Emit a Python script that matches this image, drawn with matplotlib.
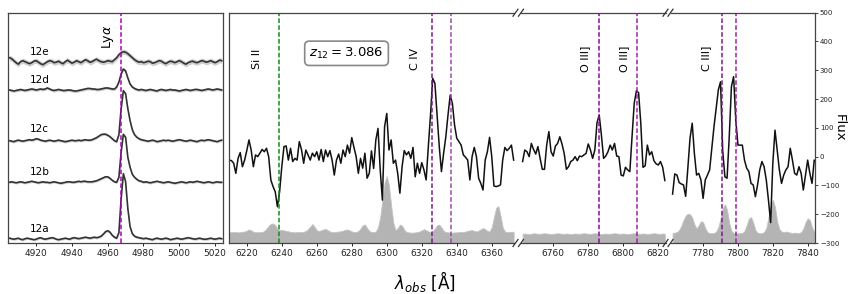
import numpy as np
import matplotlib
matplotlib.use("Agg")
import matplotlib.pyplot as plt
from matplotlib.lines import Line2D

# ============================================================
# Data
# ============================================================
Z12 = 3.086  # systemic redshift

# --- Left panel: Ly-alpha profiles of images 12a-12e (relative units) ---
LYA_W0 = 4905.0  # first wavelength of the cut-out (A)
LYA_STEP = 1.25  # MUSE sampling (A)
NAMES = ["12a", "12b", "12c", "12d", "12e"]
FLUX_12A = [0.5, 0, -0.5, 0, 0.5, -0.5, -1, 0, 0.5, 0,
            -0.5, -1, -0.5, 0.5, 1, 0, -0.5, 0, 0.5, 1,
            0.5, -0.5, -1, -0.5, 0, 0.5, 0, -0.5, 0.5, 1,
            0.5, 0, 0.5, 1, 1.5, 1, 0.5, 1, 1.5, 1, 1.5,
            2.5, 4.5, 7, 8, 6.5, 3.5, 1.5, 0.5, 6, 40, 65, 57, 30, 12, 5, 2.5, 1.5, 1, 0.5,
            0, 0.5, 0, -0.5, -1, 0, 0.5, 0, -0.5, 0, 0.5, 0, -1, -0.5, 0, 0.5, 0, -0.5,
            0, 0.5, 1, 0.5, 0, -0.5, 0, 0.5, 0, -0.5, -0.5, 0, 0.5, 0, -0.5, 0, 0.5, 0]
FLUX_12B = [0, 0.5, 0, -0.5, 0, 0.5, 0, -0.5, 0, 0.5,
            1, 0.5, 0, -0.5, 0, 0.5, 0, 0, -0.5, 0,
            0.5, 0, -0.5, -1, -0.5, 0, 0.5, 0.5, 0, 0,
            0.5, 1, 0.5, 1, 1, 0.5, 0.5,
            0.5, 1, 1.5, 2.5, 3.5, 4.5, 5.5, 5.5, 4, 2, 0.5, 0, 5, 30, 48, 45, 25, 15,
            8, 5, 3, 1.5, 1,
            0, 0.5, 0, -0.5, 0, 0.5, 1, 0.5, 0, -0.5, 0, 0.5, 0, -0.5, -1, -0.5, 0, 0.5,
            0, -0.5, 0, 0.5, 0, 0.5, 1, 0.5, 0, -0.5, 0, 0.5, 0, -0.5, 0, 0.5, 0, 0]
FLUX_12C = [0, -0.5, -1, 0, 0.5, 0, -0.5, 0, 0.5, 1,
            0.5, 1, 2, 1.5, 0.5, 0, -0.5, 0, 0.5, 0,
            -0.5, 0, 0.5, 0, -0.5, -1, -0.5, 0, 0.5, 0,
            0, 0.5, 0, 0.5, 1, 0.5, 0.5, 1, 2, 3, 4.5,
            6, 6.5, 6.5, 5.5, 4, 2, 0, -1, 6, 32, 50, 47, 32, 20, 11, 6, 3.5, 2, 1,
            0.5, 0, -0.5, 0, 0.5, 0, -1, -0.5, 0, 0.5, 0, 0.5, 0, -0.5, 0, 0.5, 1, 0.5,
            0, -0.5, 0, 0.5, 0, -0.5, -1, 0, 0.5, 0, 0.5, 1, 0.5, 0, -0.5, -1, 0, 0.5]
FLUX_12D = [0, -0.5, -1, -0.5, 0, 0.5, 0, -0.5, 0, 0.5,
            1, 0.5, 0, 0.5, 1, 0.5, 1, 2, 1, 0,
            -0.5, 0, 0.5, 0, -0.5, -0.5, 0, 0, -0.5, -1,
            -1, -0.5, 0, 0.5, 1, 1.5, 1.5, 1, 1, 0.5, 0.5, 1,
            1.5, 2, 2, 1.5, 1, 1, 3, 8, 16, 21, 19, 12, 6, 3, 1.5, 0.5, 0,
            0.5, 0, -0.5, 0, 0.5, 0, -0.5, -1, 0, 0.5, 0, -0.5, 0, 0.5, 0, 0, -0.5, -1,
            -0.5, 0, 0.5, 0, -0.5, 0, 0.5, 0.5, 0, -0.5, 0, 0.5, 1, 0.5, 0, 0.5, 1, 0.5, 0]
FLUX_12E = [4, 3, 1, -1, -2.5, 0, 1, 0, -1, -2,
            -1, 0.5, 1, -0.5, -2, -3, -1.5, 0, 1, 0.5,
            -1, -0.5, 0.5, -1, -2, 0, 1.5, 0, -1.5, -0.5,
            1, 0, -1, 0.5, 2, 1, -0.5, 0, 1.5, 2.5,
            1, 0, -0.5, 0, 1, 0.5,
            0, 2, 4, 7, 9, 10, 9.5, 8, 6, 4, 2, 0.5, -0.5,
            0, -1, -0.5, 0.5, 0, -1.5, -1, 0, 1, 0.5, -1, -2, -0.5, 0.5, 0, -1, 0, 1,
            0, -1.5, -2.5, -1, 0, 0.5, -0.5, -1, 0, 1, 0.5, -0.5, 0, 1, 0, -1, 0, 1.5, 1]
LEFT_FLUX = [FLUX_12A, FLUX_12B, FLUX_12C, FLUX_12D, FLUX_12E]
OFFSETS = [4.3, 60.7, 102.3, 153.0, 181.3]  # vertical stacking of the spectra
ERR = [1.2, 1.2, 1.3, 1.5, 2.6]  # half-width of the error band

# --- Right panel: stacked spectrum in three wavelength windows ---
SEG1_W0 = 6210.0
SEG1_FLUX = [-12, -14, -23, -58, -6, 14, -35, -12, 21, 58,
             23, -35, 6, 0, 12, 25, 17, 29, 0, -81,
             -104, -122, -174, -122, -35, 35, 37, -12, 29, -17,
             -6, -12, 52, 25, -23, 23, 6, -12, 12, 0,
             17, -12, 25, -17, 23, 0, 21, -12, -64, -12,
             9, -23, 23, 0, 40, 12, 66, 32, 0, -58,
             -6, -40, 12, -75, -58, 20, -41, 58, 98, -46,
             -151, 104, 150, 23, 58, -23, -12, -58, -127, -35,
             21, 6, 17, -6, 32, -70, -23, -58, -21, -46,
             -81, 35, 145, 272, 255, 145, 35, -52, 12, 69,
             145, 214, 185, 110, 64, 52, 40, 6, -2, -12,
             -81, 0, 32, 0, -75, -93, -116, -12, 17, 67,
             0, -102, -104, -102, -98, -12, 32, 21, 29, 40,
             -12]
SEG1_NOISE = [-262, -263, -261, -262, -263, -262, -261, -260, -257, -253,
              -256, -261, -262, -263, -262, -262, -258, -250, -240, -233,
              -232, -238, -250, -255, -255, -256, -258, -259, -262, -262,
              -263, -262, -262, -262, -261, -258, -252, -243, -234, -244,
              -256, -258, -256, -253, -251, -255, -260, -262, -262, -261,
              -260, -259, -257, -254, -253, -256, -260, -262, -262, -258,
              -250, -238, -236, -248, -258, -262, -262, -260, -245, -210,
              -150, -90, -68, -100, -170, -230, -255, -248, -236, -240,
              -254, -262, -263, -264, -264, -263, -262, -260, -256, -252,
              -255, -260, -262, -258, -250, -238, -236, -246, -258, -262,
              -263, -264, -264, -263, -263, -262, -262, -262, -260, -258,
              -256, -255, -258, -260, -257, -252, -248, -252, -258, -260,
              -245, -210, -178, -172, -205, -245, -260, -262, -262, -261,
              -261]
SEG2_W0 = 6742.5
SEG2_FLUX = [-17, 23, 17, 0, 46, 25, 9, 35, -6, -44,
             -44, 40, 87, 17, 2, 37, 46, 69, 44, 11,
             -44, -35, -17, -12, 0, -14, 2, 0, 6, 11,
             44, 23, -6, 23, 118, 145, 75, -6, 2, 17,
             40, 23, 46, 2, 0, -64, -67, -37, -46, -52,
             69, 185, 229, 222, 116, -37, -32, 40, 6, 17,
             -14, -25, -29, -17, -37, -83]
SEG2_NOISE = [-268, -267, -268, -269, -268, -266, -267, -268, -268, -267,
              -266, -267, -268, -269, -268, -267, -266, -267, -268, -268,
              -267, -268, -269, -268, -267, -268, -268, -267, -266, -267,
              -268, -268, -267, -266, -267, -268, -269, -268, -267, -268,
              -268, -267, -266, -267, -268, -268, -267, -268, -269, -268,
              -267, -266, -267, -268, -268, -267, -268, -269, -268, -267,
              -266, -267, -268, -268, -267, -268]
SEG3_W0 = 7762.5
SEG3_FLUX = [-130, -60, -64, -90, -95, -98, -138, -40, 64, 116,
             11, -64, -58, -81, -145, -81, -64, -46, 29, 104,
             168, 232, 260, 20, -70, -75, 69, 243, 278, 127,
             40, 40, 40, -12, -40, -52, -93, -98, -139, -98,
             -46, -17, -35, -81, -151, -229, -23, 92, 23, -46,
             -93, -64, -46, -35, 29, -12, -58, -64, -35, -58,
             -116, -64, -12, -58, -93, -12, -20]
SEG3_NOISE = [-265, -264, -262, -255, -240, -220, -205, -198, -200, -212,
              -235, -250, -238, -224, -228, -248, -262, -266, -266, -265,
              -260, -245, -215, -180, -165, -185, -230, -258, -265, -266,
              -266, -266, -265, -258, -238, -215, -210, -228, -255, -264,
              -266, -266, -262, -248, -210, -170, -150, -175, -225, -252,
              -260, -262, -260, -262, -264, -265, -264, -265, -265, -262,
              -250, -228, -214, -220, -245, -262, -265]
SEG_W0 = [SEG1_W0, SEG2_W0, SEG3_W0]
SEG_FLUX = [SEG1_FLUX, SEG2_FLUX, SEG3_FLUX]
SEG_NOISE = [SEG1_NOISE, SEG2_NOISE, SEG3_NOISE]
SEG_XLIM = [(6210.0, 6373.0), (6741.3, 6824.4), (7761.3, 7844.2)]
SEG_TICKS = [np.arange(6220, 6361, 20), np.arange(6760, 6821, 20), np.arange(7780, 7841, 20)]

# --- Line identifications (rest-frame wavelengths, A) ---
LYA_REST = 1215.67
LINE_REST = [1526.71, 1548.20, 1550.78, 1660.81, 1666.15, 1906.68, 1908.73]
LINE_COLORS = ["#1a8a1a", "#7d1a8f", "#9b4aa5", "#8c0a9c", "#a020a8", "#7d1a8f", "#a020a8"]
LINE_SEG = [0, 0, 0, 1, 1, 2, 2]
LABELS = ["Si II", "C IV", "O III]", "O III]", "C III]"]
LABEL_X = [6226, 6316, 6778, 6800.4, 7782]
LABEL_SEG = [0, 0, 1, 1, 2]

# ============================================================
# Layout helpers (pixel geometry of the 849x294 reference)
# ============================================================
FIG_W, FIG_H = 849, 294
Y_TOP, Y_BOT = 12.7, 243.0
SPINE_COLOR = "#444444"


def px_rect(x0, x1):
    """Axes rectangle from pixel edges."""
    return [x0 / FIG_W, 1 - Y_BOT / FIG_H, (x1 - x0) / FIG_W, (Y_BOT - Y_TOP) / FIG_H]


def style_axes(ax):
    for s in ax.spines.values():
        s.set_color(SPINE_COLOR)
        s.set_linewidth(0.9)
    ax.tick_params(axis="x", labelsize=6.5, length=2.5, width=0.7, pad=1.5, colors="#222222")


fig = plt.figure(figsize=(FIG_W / 100, FIG_H / 100), dpi=100)

# ============================================================
# Left panel: Ly-alpha
# ============================================================
ax_l = fig.add_axes(px_rect(8.3, 222.7))
style_axes(ax_l)
for name, flux, off, err in zip(NAMES, LEFT_FLUX, OFFSETS, ERR):
    f = np.array(flux, dtype=float) + off
    w = LYA_W0 + LYA_STEP * np.arange(len(f))
    ax_l.fill_between(w, f - err, f + err, color="#cfcfcf", lw=0)
    ax_l.plot(w, f, color="#333333", lw=1.2)

LABEL_Y_LEFT = [14, 71, 114, 163, 191]
for name, y in zip(NAMES, LABEL_Y_LEFT):
    ax_l.text(4916.5, y, name, fontsize=7.5, ha="left", va="center")

lya_obs = LYA_REST * (1 + Z12)
ax_l.axvline(lya_obs, color="#b000c0", ls="--", dashes=(3, 1.5), lw=1.1)
ax_l.text(4960.4, 206, r"Ly$\alpha$", rotation=90, fontsize=9, ha="center", va="center")
ax_l.set_xlim(4904.4, 5024.3)
ax_l.set_ylim(0, Y_BOT - Y_TOP)
ax_l.set_xticks(np.arange(4920, 5021, 20))
ax_l.set_yticks([])

# ============================================================
# Right panel: three broken segments
# ============================================================
SEG_PX = [(229.3, 514.5), (520.5, 666.0), (670.5, 815.0)]
axes = []
for k in range(3):
    ax = fig.add_axes(px_rect(*SEG_PX[k]))
    style_axes(ax)
    flux = np.array(SEG_FLUX[k], dtype=float)
    noise = np.array(SEG_NOISE[k], dtype=float)
    w = SEG_W0[k] + 1.25 * np.arange(len(flux))
    ax.fill_between(w, -300, noise, color="#b4b4b4", lw=0.6, edgecolor="#c4c4c4")
    ax.plot(w, flux, color="#111111", lw=1.1)
    ax.set_xlim(*SEG_XLIM[k])
    ax.set_ylim(-300, 500)
    ax.set_xticks(SEG_TICKS[k])
    if k > 0:
        ax.spines["left"].set_visible(False)
    if k < 2:
        ax.spines["right"].set_visible(False)
        ax.set_yticks([])
    axes.append(ax)

ax3 = axes[2]
ax3.yaxis.tick_right()
ax3.set_yticks(np.arange(-300, 501, 100))
ax3.tick_params(axis="y", labelsize=5, length=2, width=0.6, pad=1.5, colors="#222222")

for rest, col, seg in zip(LINE_REST, LINE_COLORS, LINE_SEG):
    axes[seg].axvline(rest * (1 + Z12), color=col, ls="--", dashes=(3, 1.5), lw=1.1)

for text, x, seg in zip(LABELS, LABEL_X, LABEL_SEG):
    axes[seg].text(x, 340, text, rotation=90, fontsize=8, ha="center", va="center")

axes[0].text(6277, 359, r"$z_{12} = 3.086$", ha="center", va="center", fontsize=9.5,
             bbox=dict(boxstyle="round,pad=0.35", fc="white", ec="#888888", lw=1.2))

# --- Break marks "//" on top and bottom spines ---
for xc in [515.5, 521.0, 665.5, 670.5]:
    for yc in [Y_TOP, Y_BOT]:
        fig.add_artist(Line2D([(xc - 2.5) / FIG_W, (xc + 2.5) / FIG_W],
                              [1 - (yc + 3.5) / FIG_H, 1 - (yc - 3.5) / FIG_H],
                              color="#333333", lw=0.9))

fig.text(839 / FIG_W, 1 - 127.7 / FIG_H, "Flux", rotation=270, ha="center", va="center", fontsize=9.5)
fig.text(0.5, 1 - 282 / FIG_H, r"$\lambda_{obs}$ [Å]", ha="center", va="center", fontsize=12)

fig.savefig("out.png", dpi=100)
